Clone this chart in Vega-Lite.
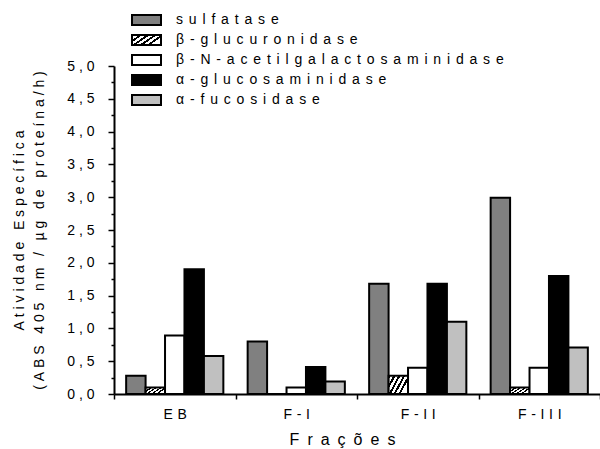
{
  "$schema": "https://vega.github.io/schema/vega-lite/v6.json",
  "width": 486,
  "height": 328,
  "autosize": "none",
  "padding": {"left": 114, "top": 66, "right": 0, "bottom": 55},
  "config": {
    "view": {"stroke": null},
    "font": "Liberation Sans",
    "axis": {
      "domainColor": "#000",
      "domainWidth": 2,
      "tickColor": "#000",
      "tickWidth": 1.5,
      "labelColor": "#000",
      "labelFont": "Liberation Sans",
      "labelFontSize": 14,
      "titleColor": "#000",
      "titleFont": "Liberation Sans",
      "titleFontSize": 14,
      "titleFontWeight": "normal",
      "grid": false
    }
  },
  "data": {
    "values": [
      {"fracao": "EB", "enzima": "sulfatase", "atividade": 0.28},
      {"fracao": "EB", "enzima": "β-glucuronidase", "atividade": 0.10},
      {"fracao": "EB", "enzima": "β-N-acetilgalactosaminidase", "atividade": 0.89},
      {"fracao": "EB", "enzima": "α-glucosaminidase", "atividade": 1.90},
      {"fracao": "EB", "enzima": "α-fucosidase", "atividade": 0.58},
      {"fracao": "F-I", "enzima": "sulfatase", "atividade": 0.80},
      {"fracao": "F-I", "enzima": "β-glucuronidase", "atividade": 0.0},
      {"fracao": "F-I", "enzima": "β-N-acetilgalactosaminidase", "atividade": 0.10},
      {"fracao": "F-I", "enzima": "α-glucosaminidase", "atividade": 0.41},
      {"fracao": "F-I", "enzima": "α-fucosidase", "atividade": 0.19},
      {"fracao": "F-II", "enzima": "sulfatase", "atividade": 1.68},
      {"fracao": "F-II", "enzima": "β-glucuronidase", "atividade": 0.28},
      {"fracao": "F-II", "enzima": "β-N-acetilgalactosaminidase", "atividade": 0.40},
      {"fracao": "F-II", "enzima": "α-glucosaminidase", "atividade": 1.68},
      {"fracao": "F-II", "enzima": "α-fucosidase", "atividade": 1.10},
      {"fracao": "F-III", "enzima": "sulfatase", "atividade": 2.99},
      {"fracao": "F-III", "enzima": "β-glucuronidase", "atividade": 0.10},
      {"fracao": "F-III", "enzima": "β-N-acetilgalactosaminidase", "atividade": 0.40},
      {"fracao": "F-III", "enzima": "α-glucosaminidase", "atividade": 1.80},
      {"fracao": "F-III", "enzima": "α-fucosidase", "atividade": 0.71}
    ]
  },
  "mark": {"type": "bar", "stroke": "#000", "strokeWidth": 2},
  "encoding": {
    "x": {
      "field": "fracao",
      "type": "nominal",
      "sort": ["EB", "F-I", "F-II", "F-III"],
      "scale": {"paddingInner": 0, "paddingOuter": 0},
      "axis": {
        "title": "F\u2002r\u2002a\u2002ç\u2002õ\u2002e\u2002s",
        "titleFontSize": 16,
        "titleX": 228,
        "labelAngle": 0,
        "tickBand": "extent",
        "tickSize": 5,
        "labelPadding": 8,
        "titlePadding": 10,
        "labelExpr": "join(split(datum.label, ''), '\u2004')"
      }
    },
    "xOffset": {
      "field": "enzima",
      "type": "nominal",
      "sort": ["sulfatase", "β-glucuronidase", "β-N-acetilgalactosaminidase", "α-glucosaminidase", "α-fucosidase"],
      "scale": {"paddingInner": 0, "paddingOuter": 0.625}
    },
    "y": {
      "field": "atividade",
      "type": "quantitative",
      "scale": {"domain": [0, 5], "nice": false},
      "axis": {
        "title": [
          "A\u00a0t\u00a0i\u00a0v\u00a0i\u00a0d\u00a0a\u00a0d\u00a0e\u00a0 \u00a0E\u00a0s\u00a0p\u00a0e\u00a0c\u00a0í\u00a0f\u00a0i\u00a0c\u00a0a",
          "(\u00a0A\u00a0B\u00a0S\u00a0 \u00a04\u00a00\u00a05\u00a0 \u00a0n\u00a0m\u00a0 \u00a0/\u00a0 \u00a0µ\u00a0g\u00a0 \u00a0d\u00a0e\u00a0 \u00a0p\u00a0r\u00a0o\u00a0t\u00a0e\u00a0í\u00a0n\u00a0a\u00a0/\u00a0h\u00a0)"
        ],
        "titleLineHeight": 20,
        "values": [0, 0.25, 0.5, 0.75, 1, 1.25, 1.5, 1.75, 2, 2.25, 2.5, 2.75, 3, 3.25, 3.5, 3.75, 4, 4.25, 4.5, 4.75, 5],
        "labelExpr": "datum.value % 0.5 == 0 ? join(split(replace(format(datum.value, '.1f'), '.', ','), ''), ' ') : ''",
        "labelOverlap": false,
        "tickSize": {"condition": {"test": "datum.value % 0.5 != 0", "value": 3}, "value": 6},
        "labelPadding": 14,
        "titlePadding": 20
      }
    },
    "fill": {
      "field": "enzima",
      "type": "nominal",
      "sort": ["sulfatase", "β-glucuronidase", "β-N-acetilgalactosaminidase", "α-glucosaminidase", "α-fucosidase"],
      "scale": {
        "domain": ["sulfatase", "β-glucuronidase", "β-N-acetilgalactosaminidase", "α-glucosaminidase", "α-fucosidase"],
        "range": [
          "#808080",
          {"expr": "{gradient: 'linear', x1: 0, y1: 0, x2: 1, y2: 0.5, stops: [{offset: 0, color: '#000'}, {offset: 0.09, color: '#000'}, {offset: 0.09, color: '#fff'}, {offset: 0.2, color: '#fff'}, {offset: 0.2, color: '#000'}, {offset: 0.29, color: '#000'}, {offset: 0.29, color: '#fff'}, {offset: 0.4, color: '#fff'}, {offset: 0.4, color: '#000'}, {offset: 0.49, color: '#000'}, {offset: 0.49, color: '#fff'}, {offset: 0.6, color: '#fff'}, {offset: 0.6, color: '#000'}, {offset: 0.69, color: '#000'}, {offset: 0.69, color: '#fff'}, {offset: 0.8, color: '#fff'}, {offset: 0.8, color: '#000'}, {offset: 0.89, color: '#000'}, {offset: 0.89, color: '#fff'}, {offset: 1, color: '#fff'}]}"},
          "#ffffff",
          "#000000",
          "#c0c0c0"
        ]
      },
      "legend": {
        "orient": "none",
        "legendX": 25.5,
        "legendY": -53,
        "title": null,
        "padding": 0,
        "symbolType": "M-2.9,-1H2.9V1H-2.9Z",
        "symbolSize": 100,
        "symbolStrokeColor": "#000",
        "symbolStrokeWidth": 2,
        "symbolOpacity": 1,
        "labelFont": "Liberation Sans",
        "labelFontSize": 14,
        "labelColor": "#000",
        "labelOffset": 22.5,
        "rowPadding": 2,
        "labelLimit": 400,
        "labelExpr": "join(split(datum.label, ''), '\u2005\u2006')"
      }
    }
  }
}
